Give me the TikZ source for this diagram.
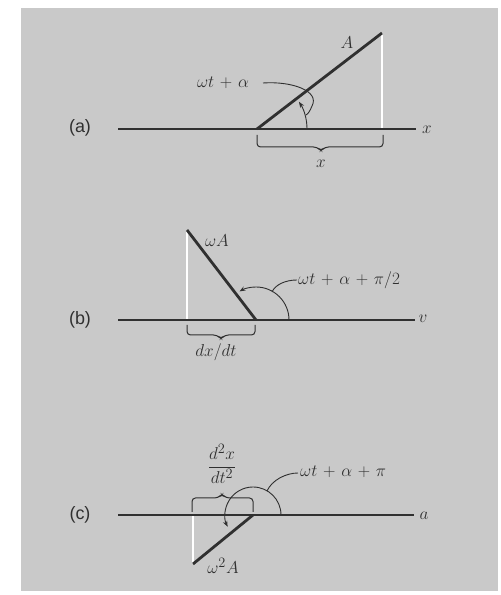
\documentclass[tikz,border=0pt]{standalone}
\usepackage{amsmath}
\usepackage{fontspec}
\newfontfamily\panelfont{Liberation Sans}
\usetikzlibrary{arrows.meta}
\definecolor{bg}{RGB}{201,201,201}
\definecolor{ink}{RGB}{48,48,48}
\newcommand\mylblfont{\fontsize{19}{22}\selectfont\medmuskip=6mu plus 2mu minus 4mu\relax}
\begin{document}
\begin{tikzpicture}[x=1bp,y=1bp,
  axisline/.style={ink,line width=1.3bp},
  vec/.style={ink,line width=2.8bp},
  proj/.style={white,line width=1.2bp},
  anglearc/.style={ink,line width=0.9bp,-{Stealth[length=6bp,width=4.5bp]}},
  leader/.style={ink,line width=0.9bp},
  bracepath/.style={ink,line width=1bp,rounded corners=3.5bp},
  lbl/.style={ink,font=\mylblfont,inner sep=0pt},
  panel/.style={ink,font=\panelfont\fontsize{18}{21}\selectfont,inner sep=0pt}]
\useasboundingbox (0,0) rectangle (501,595);
\fill[bg] (21,4) rectangle (498,587);

% ---------- panel (a) ----------
\node[panel] (pa) at (80,467) {(a)};
\coordinate (Oa) at (257,466);
\coordinate (Ta) at (382,562);
\coordinate (Pa) at (382,466);
\coordinate (La) at (118,466);
\coordinate (Ra) at (416,466);
\draw[proj] (Ta) -- (Pa);
\draw[axisline] (La) -- (Ra);
\node[lbl] (xa) at (427,465) {$x$};
\draw[vec] (Oa) -- (Ta);
\node[lbl] (Aa) at (347,552) {$A$};
\draw[anglearc] (307,466) arc[start angle=0,end angle=33,radius=50];
\node[lbl] (anga) at (223,512) {$\omega t+\alpha$};
\coordinate (la1) at (263,512);
\coordinate (la2) at (306,480);
\draw[leader] (la1) .. controls (292,514) and (320,504) .. (312,489) .. controls (310,484) and (308,481) .. (la2);
\draw[bracepath] (257,460) |- (317,448) -- (321,444) -- (325,448) -| (383,460);
\node[lbl] (xb) at (321,431) {$x$};

% ---------- panel (b) ----------
\node[panel] (pb) at (80,275) {(b)};
\coordinate (Ob) at (256,275);
\coordinate (Tb) at (187,365);
\coordinate (Pb) at (187,275);
\coordinate (Lb) at (118,275);
\coordinate (Rb) at (415,275);
\draw[proj] (Tb) -- (Pb);
\draw[axisline] (Lb) -- (Rb);
\node[lbl] (vb) at (423,276) {$v$};
\draw[vec] (Ob) -- (Tb);
\node[lbl] (wA) at (217,354) {$\omega A$};
\draw[anglearc] (289,275) arc[start angle=0,end angle=120,radius=33];
\node[lbl,anchor=west] (angb) at (298,315) {$\omega t+\alpha+\pi/2$};
\coordinate (lb1) at (297,315);
\coordinate (lb2) at (272,303);
\draw[leader] (lb1) .. controls (285,315) and (275,310) .. (lb2);
\draw[bracepath] (187,270) |- (217,260) -- (221,256) -- (225,260) -| (255,270);
\node[lbl] (dxdt) at (216,243) {$dx/dt$};

% ---------- panel (c) ----------
\node[panel] (pc) at (80,80) {(c)};
\coordinate (Oc) at (253,80);
\coordinate (Tc) at (193,31);
\coordinate (Pc) at (193,80);
\coordinate (Lc) at (118,80);
\coordinate (Rc) at (414,80);
\draw[proj] (Tc) -- (Pc);
\draw[axisline] (Lc) -- (Rc);
\node[lbl] (ac) at (424,79) {$a$};
\draw[vec] (Oc) -- (Tc);
\node[lbl] (w2A) at (223,29) {$\omega^2 A$};
\draw[anglearc] (281,80) arc[start angle=0,end angle=205,radius=28];
\node[lbl,anchor=west] (angc) at (300,123) {$\omega t+\alpha+\pi$};
\coordinate (lc1) at (298,122);
\coordinate (lc2) at (267,104);
\draw[leader] (lc1) .. controls (286,122) and (272,115) .. (lc2);
\draw[bracepath] (192,83) |- (218,97) -- (222,101) -- (226,97) -| (253,83);
\node[lbl] (frac) at (222,131) {$\dfrac{d^2x}{dt^2}$};
\end{tikzpicture}
\end{document}
